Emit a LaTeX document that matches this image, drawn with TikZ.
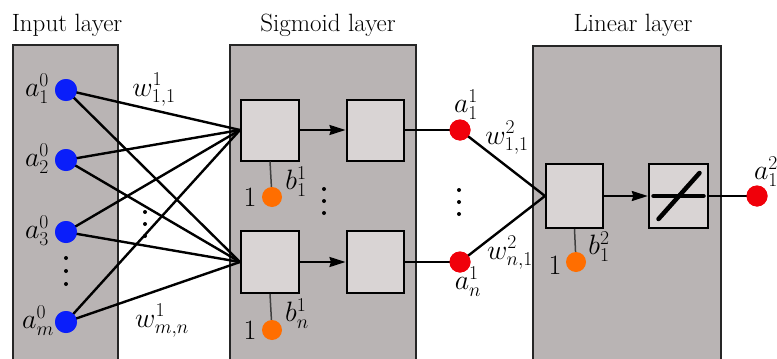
\RequirePackage{fix-cm}
\documentclass[tikz,border=0pt]{standalone}
\usetikzlibrary{arrows.meta}
\definecolor{layerfill}{RGB}{185,180,180}
\definecolor{boxfill}{RGB}{217,212,212}
\definecolor{inblue}{RGB}{10,30,250}
\definecolor{outred}{RGB}{240,0,10}
\definecolor{biasorange}{RGB}{255,110,0}
\tikzset{
  lbl/.style={font=\fontsize{25}{30}\selectfont, inner sep=0pt},
  mlbl/.style={font=\fontsize{28}{32}\selectfont, inner sep=0pt},
  layerbox/.style={draw=black!85, line width=1.4pt, fill=layerfill},
  unitbox/.style={draw=black, line width=2pt, fill=boxfill, inner sep=0pt},
  inneuron/.style={circle, fill=inblue, minimum size=22pt, inner sep=0pt},
  rneuron/.style={circle, fill=outred, minimum size=21pt, inner sep=0pt},
  bneuron/.style={circle, fill=biasorange, minimum size=20pt, inner sep=0pt},
  conn/.style={line width=2.4pt, draw=black},
  biasline/.style={line width=1.5pt, draw=black!75},
  arr/.style={line width=2pt, -{Stealth[length=16pt,width=10pt,inset=1.5pt]}},
  dot/.style={circle, fill=black, minimum size=4pt, inner sep=0pt}
}
\begin{document}
\begin{tikzpicture}[x=1pt,y=-1pt]
\useasboundingbox (0,0) rectangle (777,359);
\clip (0,0) rectangle (777,359);
% layer backgrounds
\draw[layerbox] (13,45) rectangle (118,380);
\draw[layerbox] (230,45) rectangle (416,380);
\draw[layerbox] (533,46) rectangle (721,380);
% titles
\node[lbl, anchor=base] (tin) at (67,31) {Input layer};
\node[lbl, anchor=base] (tsig) at (328,31) {Sigmoid layer};
\node[lbl, anchor=base] (tlin) at (633,31) {Linear layer};
% input neurons
\node[inneuron] (a1) at (66,90) {};
\node[inneuron] (a2) at (66,160) {};
\node[inneuron] (a3) at (66,232) {};
\node[inneuron] (am) at (66,322) {};
% sigmoid layer boxes
\node[unitbox, minimum width=58pt, minimum height=61pt] (s1) at (270,130) {};
\node[unitbox, minimum width=57pt, minimum height=61pt] (t1) at (375,130) {};
\node[unitbox, minimum width=58pt, minimum height=62pt] (sn) at (270,262) {};
\node[unitbox, minimum width=57pt, minimum height=62pt] (tn) at (375,262) {};
% sigmoid outputs
\node[rneuron] (r1) at (460,130) {};
\node[rneuron] (rn) at (460,262) {};
% linear layer boxes
\node[unitbox, minimum width=57pt, minimum height=64pt] (l1) at (574.5,196) {};
\node[unitbox, minimum width=59pt, minimum height=64pt, line width=2.4pt] (l2) at (678.5,196) {};
\node[rneuron] (out) at (757,196) {};
% biases
\node[bneuron] (b1) at (272,197) {};
\node[bneuron] (bn) at (272,330) {};
\node[bneuron] (b2) at (576,262) {};
% input connectors
\foreach \i in {a1,a2,a3,am}{
  \draw[conn] (\i.center) -- (s1.west);
  \draw[conn] (\i.center) -- (sn.west);
}
\foreach \i in {a1,a2,a3,am}{ \node[inneuron] at (\i) {}; }
% sigmoid arrows
\draw[arr] (s1.east) -- (t1.west);
\draw[arr] (sn.east) -- (tn.west);
\draw[conn] (t1.east) -- (r1.center);
\draw[conn] (tn.east) -- (rn.center);
\draw[conn] (r1.center) -- (l1.west);
\draw[conn] (rn.center) -- (l1.west);
\node[rneuron] at (r1) {};
\node[rneuron] at (rn) {};
\draw[arr] (l1.east) -- (l2.west);
\draw[line width=1.8pt] (l2.east) -- (out.center);
\node[rneuron] at (out) {};
% bias lines
\draw[biasline] (s1.south) -- (b1);
\draw[biasline] (sn.south) -- (bn);
\draw[biasline] (l1.south) -- (b2);
% linear transfer symbol
\draw[line width=4.5pt, line cap=round] ([xshift=-25pt]l2.center) -- ([xshift=25pt]l2.center);
\draw[line width=4.5pt, line cap=round] ([shift={(-20pt,-23pt)}]l2.center) -- ([shift={(21pt,23pt)}]l2.center);
% dots
\foreach \y in {258,271,284} \node[dot] at (66,\y) {};
\foreach \y in {212,224,236} \node[dot] at (145,\y) {};
\foreach \y in {189,201,213} \node[dot] at (324,\y) {};
\foreach \y in {190,202,214} \node[dot] at (459,\y) {};
% labels
\node[mlbl] (la1) at (37,89) {$a_1^0$};
\node[mlbl] (la2) at (37,159) {$a_2^0$};
\node[mlbl] (la3) at (37,231) {$a_3^0$};
\node[mlbl] (lam) at (38,321) {$a_m^0$};
\node[mlbl] (lw11) at (154,90) {$w_{1,1}^1$};
\node[mlbl] (lwmn) at (162,321) {$w_{m,n}^1$};
\node[mlbl] (lb1) at (296,182) {$b_1^1$};
\node[mlbl] (lbn) at (297,314) {$b_n^1$};
\node[mlbl] (one1) at (250,197) {1};
\node[mlbl] (onen) at (250,330) {1};
\node[mlbl] (lr1) at (466,105) {$a_1^1$};
\node[mlbl] (lrn) at (468,282) {$a_n^1$};
\node[mlbl] (lw211) at (507,138) {$w_{1,1}^2$};
\node[mlbl] (lw2n1) at (510,253) {$w_{n,1}^2$};
\node[mlbl] (lb2) at (599,247) {$b_1^2$};
\node[mlbl] (one2) at (555,265) {1};
\node[mlbl] (lout) at (766,172) {$a_1^2$};
\end{tikzpicture}
\end{document}
